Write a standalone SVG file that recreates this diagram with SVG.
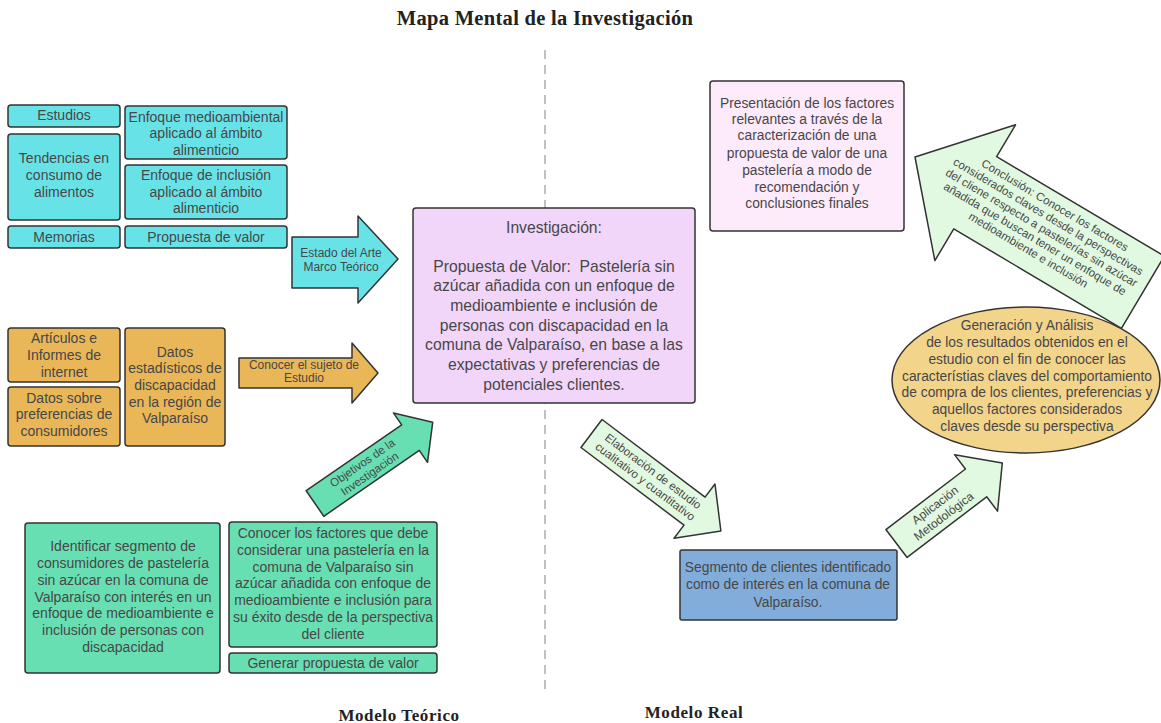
<svg xmlns="http://www.w3.org/2000/svg" width="1161" height="723" viewBox="0 0 1161 723">
<style>
.box{stroke:#333;stroke-width:1.5}
.cy{fill:#67e3e8}
.or{fill:#e9b658}
.gr{fill:#67dfb3}
.lg{fill:#e1f9e0}
.t{font-family:"Liberation Sans",Arial,sans-serif;font-size:14px;fill:#474747;text-anchor:middle}
.s13{font-size:13.8px}
.s12{font-size:12px}
.s11{font-size:11.5px}
.s15{font-size:15.7px}
.h{font-family:"Liberation Serif","Times New Roman",serif;font-weight:bold;fill:#222;text-anchor:middle}
</style>
<rect width="1161" height="723" fill="#fff"/>
<text class="h" x="545" y="25" font-size="20.5" letter-spacing="0.3">Mapa Mental de la Investigación</text>
<line x1="545" y1="50" x2="545" y2="692" stroke="#999" stroke-width="1.2" stroke-dasharray="9,6"/>
<text class="h" x="399" y="721" font-size="17" letter-spacing="0.6">Modelo Teórico</text>
<text class="h" x="694" y="718" font-size="17" letter-spacing="0.6">Modelo Real</text>

<g id="estudios"><rect class="box cy" x="8" y="105" width="112" height="22" rx="3"/><text class="t" x="64" y="120">Estudios</text></g>
<g id="tendencias"><rect class="box cy" x="8" y="134" width="112" height="86" rx="3"/><text class="t" x="64" y="163">Tendencias en</text><text class="t" x="64" y="180">consumo de</text><text class="t" x="64" y="197">alimentos</text></g>
<g id="memorias"><rect class="box cy" x="8" y="226" width="112" height="22" rx="3"/><text class="t" x="64" y="242">Memorias</text></g>
<g id="enfoque-med"><rect class="box cy" x="125" y="106" width="162" height="53" rx="3"/><text class="t" x="206" y="122">Enfoque medioambiental</text><text class="t" x="206" y="138">aplicado al ámbito</text><text class="t" x="206" y="155">alimenticio</text></g>
<g id="enfoque-inc"><rect class="box cy" x="125" y="165" width="162" height="54" rx="3"/><text class="t" x="206" y="180">Enfoque de inclusión</text><text class="t" x="206" y="197">aplicado al ámbito</text><text class="t" x="206" y="213">alimenticio</text></g>
<g id="propuesta"><rect class="box cy" x="125" y="226" width="162" height="22" rx="3"/><text class="t" x="206" y="242">Propuesta de valor</text></g>

<g id="articulos"><rect class="box or" x="8" y="328" width="112" height="54" rx="3"/><text class="t" x="64" y="343">Artículos e</text><text class="t" x="64" y="360">Informes de</text><text class="t" x="64" y="377">internet</text></g>
<g id="datos-pref"><rect class="box or" x="8" y="387" width="112" height="59" rx="3"/><text class="t" x="64" y="403">Datos sobre</text><text class="t" x="64" y="419">preferencias de</text><text class="t" x="64" y="436">consumidores</text></g>
<g id="datos-est"><rect class="box or" x="125" y="328" width="100" height="118" rx="3"/><text class="t" x="175" y="357">Datos</text><text class="t" x="175" y="373">estadísticos de</text><text class="t" x="175" y="390">discapacidad</text><text class="t" x="175" y="407">en la región de</text><text class="t" x="175" y="423">Valparaíso</text></g>

<g id="identificar"><rect class="box gr" x="25" y="523" width="195" height="150" rx="3"/><text class="t" x="123" y="551">Identificar segmento de</text><text class="t" x="123" y="568">consumidores de pastelería</text><text class="t" x="123" y="585">sin azúcar en la comuna de</text><text class="t" x="123" y="602">Valparaíso con interés en un</text><text class="t" x="123" y="618">enfoque de medioambiente e</text><text class="t" x="123" y="635">inclusión de personas con</text><text class="t" x="123" y="652">discapacidad</text></g>
<g id="conocer-factores"><rect class="box gr" x="229" y="522" width="208" height="125" rx="3"/><text class="t" x="333" y="538">Conocer los factores que debe</text><text class="t" x="333" y="555">considerar una pastelería en la</text><text class="t" x="333" y="572">comuna de Valparaíso sin</text><text class="t" x="333" y="588">azúcar añadida con enfoque de</text><text class="t" x="333" y="605">medioambiente e inclusión para</text><text class="t" x="333" y="622">su éxito desde de la perspectiva</text><text class="t" x="333" y="639">del cliente</text></g>
<g id="generar"><rect class="box gr" x="229" y="653" width="208" height="20" rx="3"/><text class="t" x="333" y="668">Generar propuesta de valor</text></g>

<g id="investigacion"><rect class="box" fill="#f1d6fa" x="413" y="208" width="282" height="195" rx="3"/>
<text class="t s15" x="554" y="233">Investigación:</text>
<text class="t s15" x="554" y="272" xml:space="preserve">Propuesta de Valor:  Pastelería sin</text>
<text class="t s15" x="554" y="291">azúcar añadida con un enfoque de</text>
<text class="t s15" x="554" y="311">medioambiente e inclusión de</text>
<text class="t s15" x="554" y="331">personas con discapacidad en la</text>
<text class="t s15" x="554" y="350">comuna de Valparaíso, en base a las</text>
<text class="t s15" x="554" y="370">expectativas y preferencias de</text>
<text class="t s15" x="554" y="390">potenciales clientes.</text></g>

<g id="presentacion"><rect class="box" fill="#fdeafb" x="710" y="81" width="194" height="150" rx="3"/>
<text class="t s13" x="807" y="108">Presentación de los factores</text>
<text class="t s13" x="807" y="124">relevantes a través de la</text>
<text class="t s13" x="807" y="140">caracterización de una</text>
<text class="t s13" x="807" y="158">propuesta de valor de una</text>
<text class="t s13" x="807" y="175">pastelería a modo de</text>
<text class="t s13" x="807" y="192">recomendación y</text>
<text class="t s13" x="807" y="208">conclusiones finales</text></g>

<g id="generacion"><ellipse class="box" fill="#f2d48b" cx="1026" cy="380" rx="134" ry="73"/>
<text class="t s13" x="1027" y="330">Generación y Análisis</text>
<text class="t s13" x="1027" y="347">de los resultados obtenidos en el</text>
<text class="t s13" x="1027" y="364">estudio con el fin de conocer las</text>
<text class="t s13" x="1027" y="381">característias claves del comportamiento</text>
<text class="t s13" x="1027" y="397">de compra de los clientes, preferencias y</text>
<text class="t s13" x="1027" y="414">aquellos factores considerados</text>
<text class="t s13" x="1027" y="431">claves desde su perspectiva</text></g>

<g id="segmento"><rect class="box" fill="#82acd9" x="680" y="550" width="217" height="70" rx="2"/>
<text class="t s13" x="788" y="572" fill="#333">Segmento de clientes identificado</text>
<text class="t s13" x="788" y="589">como de interés en la comuna de</text>
<text class="t s13" x="788" y="607">Valparaíso.</text></g>

<g id="connectors">
<g id="arrow-estado"><polygon class="box cy" stroke-linejoin="round" points="292,237 358,237 358,216 398,259 358,303 358,288 292,288"/>
<text class="t s12" x="341" y="257">Estado del Arte</text><text class="t s12" x="341" y="271">Marco Teórico</text></g>
<g id="arrow-conocer"><polygon class="box or" stroke-linejoin="round" points="239,358 352,358 352,343 378,373 352,403 352,388 239,388"/>
<text class="t s12" x="304" y="369">Conocer el sujeto de</text><text class="t s12" x="304" y="382">Estudio</text></g>
<g id="arrow-objetivos" transform="translate(315,503.5) rotate(-34.6)"><polygon class="box gr" stroke-linejoin="round" points="0,-15.5 116,-15.5 116,-30 143,0 116,30 116,15.5 0,15.5"/>
<text class="t s11" x="62" y="-2.5">Objetivos de la</text><text class="t s11" x="62" y="10.5">Investigación</text></g>
<g id="arrow-elaboracion" transform="translate(591.5,433.5) rotate(37)"><polygon class="box lg" stroke-linejoin="round" points="0,-17.5 129,-17.5 129,-34 162,0 129,34 129,17.5 0,17.5"/>
<text class="t s11" x="72" y="-3">Elaboración de estudio</text><text class="t s11" x="72" y="10">cualitativo y cuantitativo</text></g>
<g id="arrow-aplicacion" transform="translate(896.5,543.5) rotate(-37.3)"><polygon class="box lg" stroke-linejoin="round" points="0,-17.5 100,-17.5 100,-35.5 133,0 100,35.5 100,17.5 0,17.5"/>
<text class="t s12" x="54" y="-3">Aplicación</text><text class="t s12" x="54" y="11">Metodológica</text></g>
<g id="arrow-conclusion" transform="translate(915,157) rotate(30.7)"><polygon class="box lg" stroke-linejoin="round" points="0,0 70,-79 70,-42 265,-42 265,42 70,42 70,79"/>
<text class="t s11" x="145" y="-26">Conclusión: Conocer los factores</text>
<text class="t s11" x="145" y="-13">considerados claves desde la perspectivas</text>
<text class="t s11" x="145" y="0">del cliene respecto a pastelerías sin azúcar</text>
<text class="t s11" x="145" y="13">añadida que buscan tener un enfoque de</text>
<text class="t s11" x="145" y="26">medioambiente e inclusión</text></g>
</g>
</svg>
